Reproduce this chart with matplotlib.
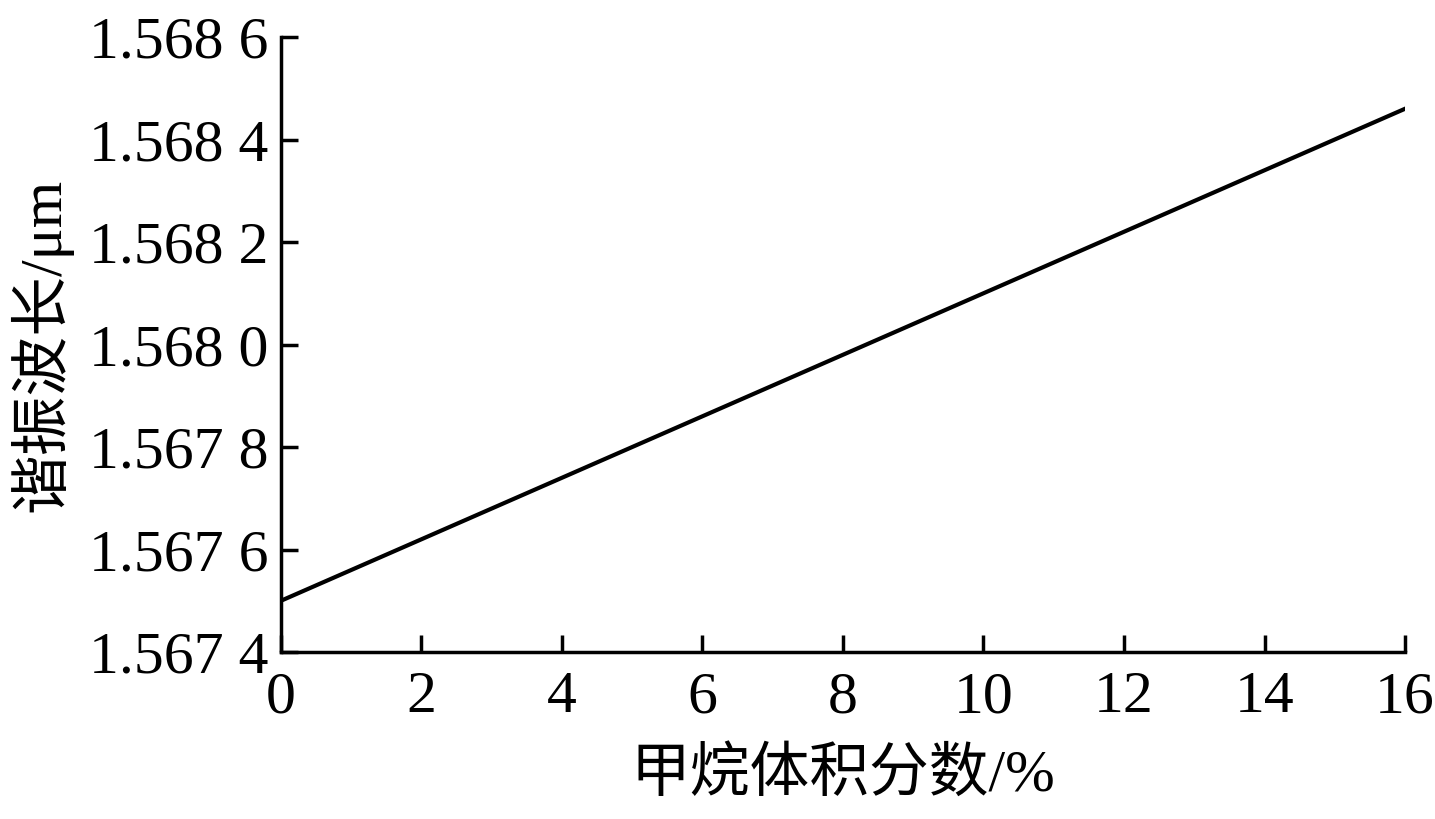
import matplotlib
matplotlib.use("Agg")
import matplotlib.pyplot as plt
import numpy as np

plt.rcParams["font.family"] = ["Liberation Serif", "Noto Sans CJK SC", "DejaVu Sans"]
plt.rcParams["mathtext.fontset"] = "stix"

# methane volume fraction (%) and resonance wavelength (um)
methane_fraction = [0, 16]
wavelength = [1.56750, 1.56846]

x_ticks = [0, 2, 4, 6, 8, 10, 12, 14, 16]
y_ticks = [1.5674, 1.5676, 1.5678, 1.5680, 1.5682, 1.5684, 1.5686]
y_tick_labels = ["1.567 4", "1.567 6", "1.567 8", "1.568 0", "1.568 2", "1.568 4", "1.568 6"]

fig = plt.figure(figsize=(14.35, 8.19), dpi=100)
ax = fig.add_axes([0.1958, 0.2039, 0.9791 - 0.1958, 0.9548 - 0.2039])
ax.plot(methane_fraction, wavelength, color="black", linewidth=3.0)

ax.set_xlim(0, 16)
ax.set_ylim(1.5674, 1.5686)
ax.set_xticks(x_ticks)
ax.set_xticklabels([str(t) for t in x_ticks])
ax.set_yticks(y_ticks)
ax.set_yticklabels(y_tick_labels)

for side in ("top", "right"):
    ax.spines[side].set_visible(False)
for side in ("left", "bottom"):
    ax.spines[side].set_linewidth(2.5)

ax.tick_params(direction="in", length=12, width=2.5, labelsize=43)
ax.tick_params(axis="x", pad=14)
ax.tick_params(axis="y", pad=9)
ax.set_xlabel("甲烷体积分数/%", fontsize=43, labelpad=16)
ax.set_ylabel("谐振波长/μm", fontsize=43, labelpad=12)

fig.savefig("out.png", dpi=100)
